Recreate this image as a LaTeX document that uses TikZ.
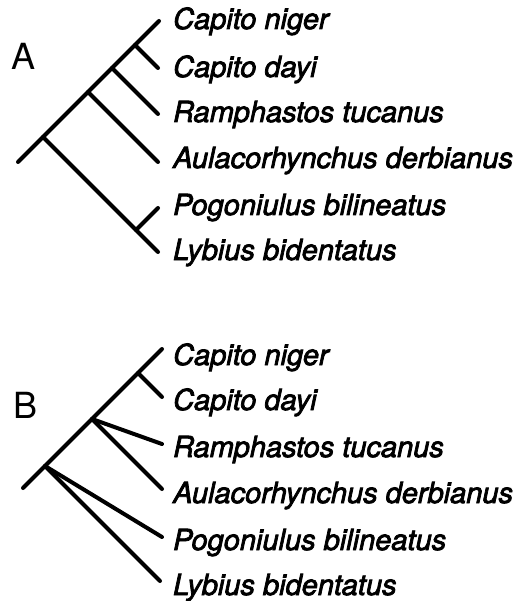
\documentclass[tikz,border=0pt]{standalone}
\usepackage{fontspec}
\setmainfont{TeX Gyre Heros}[ItalicFeatures={FakeBold=2.6}]
\usetikzlibrary{positioning}
\tikzset{
  branch/.style={line width=4pt,line cap=round},
  taxon/.style={anchor=base west,inner sep=0pt,font=\itshape\fontsize{29}{30}\selectfont},
  panel/.style={inner sep=0pt,font=\fontsize{36}{40}\selectfont}
}

\begin{document}
\begin{tikzpicture}[x=1pt,y=-1pt]
  \useasboundingbox (0,0) rectangle (524,601);
  % tree A
  \node[panel] (labA) at (24,56) {A};
  \coordinate (rootA) at (18,162);
  \coordinate (nA1) at (43,137);
  \coordinate (nA2) at (88,92);
  \coordinate (nA3) at (112,68);
  \coordinate (nA4) at (135,45);
  \coordinate (nA5) at (136,230);
  \coordinate (tA1) at (159,21);
  \coordinate (tA2) at (158,68);
  \coordinate (tA3) at (158,114);
  \coordinate (tA4) at (158,162);
  \coordinate (tA5) at (158,208);
  \coordinate (tA6) at (158,252);
  \node[taxon] (cnA) at (173,29) {Capito niger};
  \node[taxon] (cdA) at (173,77) {Capito dayi};
  \node[taxon] (rtA) at (173,122) {Ramphastos tucanus};
  \node[taxon] (adA) at (173,168) {Aulacorhynchus derbianus};
  \node[taxon] (pbA) at (173,215) {Pogoniulus bilineatus};
  \node[taxon] (lbA) at (173,260) {Lybius bidentatus};
  \draw[branch] (rootA) -- (tA1);
  \draw[branch] (nA4) -- (tA2);
  \draw[branch] (nA3) -- (tA3);
  \draw[branch] (nA2) -- (tA4);
  \draw[branch] (nA1) -- (tA6);
  \draw[branch] (nA5) -- (tA5);

  % tree B
  \node[panel] (labB) at (26,405) {B};
  \coordinate (rootB) at (23,488);
  \coordinate (nB1) at (45,466);
  \coordinate (nB2) at (92,419);
  \coordinate (nB3) at (138,373);
  \coordinate (tB1) at (162,349);
  \coordinate (tB2) at (162,397);
  \coordinate (tB3) at (162,444);
  \coordinate (tB4) at (162,489);
  \coordinate (tB5) at (162,537);
  \coordinate (tB6) at (160,581);
  \node[taxon] (cnB) at (173,365) {Capito niger};
  \node[taxon] (cdB) at (173,410) {Capito dayi};
  \node[taxon] (rtB) at (173,457) {Ramphastos tucanus};
  \node[taxon] (adB) at (173,503) {Aulacorhynchus derbianus};
  \node[taxon] (pbB) at (173,550) {Pogoniulus bilineatus};
  \node[taxon] (lbB) at (173,595) {Lybius bidentatus};
  \draw[branch] (rootB) -- (tB1);
  \draw[branch] (nB3) -- (tB2);
  \draw[branch] (nB2) -- (tB3);
  \draw[branch] (nB2) -- (tB4);
  \draw[branch] (nB1) -- (tB5);
  \draw[branch] (nB1) -- (tB6);
\end{tikzpicture}
\end{document}
